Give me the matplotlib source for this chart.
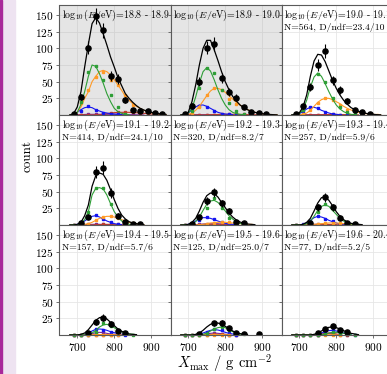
import numpy as np
import matplotlib.pyplot as plt
from matplotlib.patches import Rectangle

plt.rcParams['font.family'] = 'serif'
plt.rcParams['font.serif'] = ['cmr10']
plt.rcParams['mathtext.fontset'] = 'cm'
plt.rcParams['axes.formatter.use_mathtext'] = True

# fitted curves: x from 680 in steps of 10; data / template points: bins from 690 in steps of 20
CURVE_X0, CURVE_DX = 680, 10
BIN_X0, BIN_DX = 690, 20

energy_bins = ['18.8 - 18.9', '18.9 - 19.0', '19.0 - 19.1',
               '19.1 - 19.2', '19.2 - 19.3', '19.3 - 19.4',
               '19.4 - 19.5', '19.5 - 19.6', '19.6 - 20.4']
fit_info = [None, None, 'N=564, D/ndf=23.4/10',
            'N=414, D/ndf=24.1/10', 'N=320, D/ndf=8.2/7', 'N=257, D/ndf=5.9/6',
            'N=157, D/ndf=5.7/6', 'N=125, D/ndf=25.0/7', 'N=77, D/ndf=5.2/5']
shaded = [True, True, False, False, False, False, False, False, False]

# ---- panel 1
data_1 = [1, 27, 101, 149, 127, 58, 54, 22, 8, 6, 6, 3, 2]
total_1 = [0, 2, 12, 35, 72, 106, 137, 146, 138, 122, 105, 87, 72, 56, 44, 32, 25, 19, 14, 10, 7.5, 5.5, 4, 3, 2, 1.3, 0.8]
green_1 = [0, 1, 4, 16, 35, 58, 75, 73, 62, 48, 32, 20, 10, 5, 2.5, 1, 0.5]
orange_1 = [0, 1, 4, 12, 25, 35, 50, 58, 65, 67, 65, 60, 53, 45, 37, 28, 22, 17, 13, 10, 7, 5, 3.5, 2.5, 1.5, 1, 0.5]
blue_1 = [0, 1, 4, 8, 11, 12, 11, 8, 6, 4, 3, 2, 1.5, 1, 0.5]
red_1 = [0, 0, 0, 0, 0, 0, 0, 0, 0.5, 1, 2, 3, 3.5, 4, 4, 4, 4, 3.5, 3.5, 3, 2.5, 2, 1.5, 1, 0.8, 0.5, 0.3]
purple_1 = [0, 0, 0.3, 0.5, 0.8, 1, 1, 1, 1, 1, 1, 1, 1, 0.8, 0.8, 0.6, 0.5, 0.4, 0.3, 0.2, 0.1]
green_pts_1 = [0, 20, 65, 74, 52, 30, 12, 2]
orange_pts_1 = [1, 18, 38, 57, 65, 52, 45, 30, 15, 8, 4, 2, 1]
blue_pts_1 = [1, 6, 13, 8, 3, 2, 1, 0]
red_pts_1 = [0, 0, 0, 0, 1, 3, 4, 4, 4, 3, 2, 1, 0.5]
purple_pts_1 = [0, 0.5, 1, 1, 1, 1, 1, 0.5, 0.5, 0]

# ---- panel 2
data_2 = [1, 14, 50, 101, 106, 55, 35, 26, 12, 4, 2.5, 1]
total_2 = [0, 1, 4, 20, 45, 75, 100, 112, 112, 98, 82, 65, 50, 38, 28, 21, 15, 11, 8, 5.5, 4, 3, 2, 1.3, 0.8, 0.5, 0.3]
green_2 = [0, 0.5, 3, 10, 27, 48, 65, 71, 66, 53, 38, 25, 15, 8, 4, 2, 1, 0.5]
orange_2 = [0, 0, 1, 3, 7, 13, 21, 29, 36, 40, 40, 38, 34, 29, 24, 19, 15, 11, 8, 6, 4, 3, 2, 1.3, 0.8, 0.5, 0.3]
blue_2 = [0, 1, 3, 8, 12, 15, 15, 13, 10, 7, 4, 2.5, 1.5, 1, 0.5]
red_2 = [0, 0, 0, 0, 0, 0, 0, 0, 0.3, 0.5, 0.8, 1, 1, 1, 1, 1, 0.8, 0.8, 0.6, 0.5, 0.4, 0.3, 0.2]
purple_2 = [0, 0, 0.2, 0.3, 0.5, 0.5, 0.5, 0.5, 0.5, 0.5, 0.5, 0.4, 0.3, 0.2, 0.1]
green_pts_2 = [0, 6, 40, 70, 63, 38, 18, 6, 1]
orange_pts_2 = [0, 3, 12, 30, 40, 38, 24, 17, 10, 5, 2, 1]
blue_pts_2 = [1, 7, 13, 12, 6, 2, 1, 0]
red_pts_2 = [0, 0, 0, 0, 0.5, 1, 1, 1, 1, 0.5, 0]
purple_pts_2 = [0, 0, 0.5, 0.5, 0.5, 0.5, 0]

# ---- panel 3
data_3 = [1, 13, 42, 75, 96, 52, 37, 21, 7, 4, 2]
total_3 = [0, 1, 3, 12, 30, 58, 81, 91, 90, 80, 66, 52, 40, 30, 22, 16, 11, 8, 5.5, 4, 2.5, 1.5, 1, 0.5, 0.3]
green_3 = [0, 0.5, 2, 8, 22, 42, 57, 63, 58, 47, 35, 24, 15, 9, 5, 2.5, 1, 0.5]
orange_3 = [0, 0, 0, 1, 3, 7, 13, 19, 23, 25, 25, 23, 20, 17, 13, 10, 7.5, 5.5, 4, 3, 2, 1.5, 1, 0.5, 0.3]
blue_3 = [0, 0.5, 2, 5, 9, 11.5, 11.5, 10, 7, 5, 3, 1.5, 1, 0.5]
red_3 = [0, 0, 0, 0, 0, 0, 0, 0.2, 0.4, 0.6, 0.8, 0.8, 0.8, 0.7, 0.6, 0.5, 0.4, 0.3, 0.2]
purple_3 = [0, 0, 0.2, 0.3, 0.4, 0.5, 0.5, 0.5, 0.4, 0.3, 0.2, 0.1]
green_pts_3 = [0, 7, 40, 62, 50, 26, 12, 4, 1]
orange_pts_3 = [0, 1, 7, 18, 25, 22, 15, 8, 5, 2, 1, 0]
blue_pts_3 = [0.5, 5, 12, 11, 5, 2, 0.5, 0]
red_pts_3 = [0, 0, 0, 0, 0.5, 1, 0.5, 0.5, 0]
purple_pts_3 = [0, 0, 0.5, 0.5, 0.5, 0]

# ---- panel 4
data_4 = [0, 3.5, 12.5, 80, 86, 48, 14, 5, 2, 1]
total_4 = [0, 0, 1, 4, 14, 30, 58, 74, 78, 76, 67, 53, 38, 25, 15, 9, 5, 3, 2, 1, 0.5]
green_4 = [0, 0, 0, 2, 8, 20, 45, 55, 56, 54, 45, 32, 20, 12, 6, 3, 1, 0.5]
orange_4 = [0, 0, 0, 0, 1, 2, 4, 7, 10, 12, 13, 13, 12, 10, 8, 6, 4, 3, 2, 1, 0.5]
blue_4 = [0, 0, 1, 3, 6, 10, 13, 14, 12, 9, 6, 4, 2, 1, 0.5]
red_4 = [0, 0, 0, 0, 0, 0, 0, 0.3, 0.5, 0.8, 1, 1, 1, 0.8, 0.6, 0.4, 0.2]
purple_4 = [0, 0, 0, 0.2, 0.5, 0.8, 1, 1, 1, 0.8, 0.5, 0.3, 0.1]
green_pts_4 = [0, 2, 20, 55, 55, 32, 12, 3, 1]
orange_pts_4 = [0, 0, 2, 7, 12, 13, 10, 6, 3, 1]
blue_pts_4 = [0, 3, 10, 15, 9, 4, 1, 0]
red_pts_4 = [0, 0, 0, 0, 1, 1, 1, 0]
purple_pts_4 = [0, 0, 1, 1, 1, 0.5, 0]

# ---- panel 5
data_5 = [0, 1, 11.5, 36, 49, 32.5, 21.5, 5, 2.5]
total_5 = [0, 0, 1, 4, 10, 21, 34, 44, 48, 47, 42, 34, 26, 18, 12, 7.5, 4.5, 2.5, 1.5, 1, 0.5]
green_5 = [0, 0, 0, 1.5, 5, 12, 22, 31, 36, 37, 34, 28, 21, 14, 9, 5, 2.5, 1, 0.5]
orange_5 = [0, 0, 0, 0, 0, 0.5, 1, 2, 3, 3.5, 4, 4, 4, 3.5, 3, 2.5, 2, 1.5, 1, 0.5]
blue_5 = [0, 0, 1, 3, 6, 9, 11, 11, 10, 8, 6, 4, 2.5, 1.5, 1, 0.5]
red_5 = [0, 0, 0, 0, 0, 0, 0.2, 0.4, 0.5, 0.6, 0.6, 0.5, 0.4, 0.3, 0.2]
purple_5 = [0, 0, 0, 0, 0.5, 1, 1.5, 2, 2, 2, 2, 1.5, 1, 0.5]
green_pts_5 = [0, 1, 10, 25, 40, 26, 10, 3, 0.5]
orange_pts_5 = [0, 0, 0.5, 2, 3, 4, 4, 3, 1, 0.5]
blue_pts_5 = [0, 2, 8, 12, 9, 5, 2, 0.5]
red_pts_5 = [0, 0, 0, 0.5, 0.5, 0.5, 0]
purple_pts_5 = [0, 0, 1, 2, 2, 2, 1, 0]

# ---- panel 6
data_6 = [0, 0, 3.5, 26.5, 41.5, 26.5, 11, 3, 1.5]
total_6 = [0, 0, 0, 1, 4, 10, 21, 33, 41, 42, 37, 29, 20, 13, 8, 4.5, 2.5, 1.5, 1, 0.5]
green_6 = [0, 0, 0, 0, 2, 6, 13, 22, 28, 30, 28, 22, 16, 10, 6, 3, 1.5, 0.5]
orange_6 = [0, 0, 0, 0, 0, 0.5, 1, 1.5, 2, 2.5, 3, 3, 3, 2.5, 2, 1.5, 1, 0.5]
blue_6 = [0, 0, 0, 1, 3, 7, 11, 13, 12, 10, 7, 5, 3, 1.5, 1, 0.5]
red_6 = [0, 0, 0, 0, 0, 0, 0.2, 0.4, 0.5, 0.6, 0.6, 0.5, 0.4, 0.3, 0.2]
purple_6 = [0, 0, 0, 0, 0.3, 0.6, 1, 1, 1, 1, 0.8, 0.5, 0.3]
green_pts_6 = [0, 0, 5, 20, 31, 24, 10, 3, 0.5]
orange_pts_6 = [0, 0, 0.5, 1.5, 2.5, 3, 2.5, 1.5, 0.5]
blue_pts_6 = [0, 1, 6, 13, 9, 6, 1, 0.5]
red_pts_6 = [0, 0, 0, 0.5, 0.5, 0.5, 0]
purple_pts_6 = [0, 0, 0.5, 1, 1, 0.5, 0]

# ---- panel 7
data_7 = [0, 0, 3.5, 20, 26, 16.5, 6.5, 3.5]
total_7 = [0, 0, 0, 1, 3, 8, 15, 22, 26, 27, 24, 19, 14, 9, 5.5, 3, 1.5, 1, 0.5]
green_7 = [0, 0, 0, 0, 0, 1, 3, 7, 12, 15, 16, 14, 11, 8, 5, 3, 1.5, 1, 0.5]
orange_7 = [0, 0, 0, 0, 0, 0, 0.2, 0.4, 0.5, 0.6, 0.6, 0.5, 0.4, 0.3, 0.2]
blue_7 = [0, 0, 0, 0, 1, 3, 6, 8.5, 9, 8.5, 7, 5, 3.5, 2, 1, 0.5]
red_7 = [0, 0, 0, 0, 0, 0, 0.2, 0.4, 0.6, 0.6, 0.5, 0.4, 0.2]
purple_7 = [0, 0, 0, 0, 0, 0.5, 2, 3.5, 4, 3.5, 2.5, 1.5, 1, 0.5]
green_pts_7 = [0, 0, 1, 5, 18, 14, 7, 3, 0.5]
orange_pts_7 = [0, 0, 0, 0.5, 0.5, 0.5, 0]
blue_pts_7 = [0, 0, 2, 9, 8, 5, 2, 0.5]
red_pts_7 = [0, 0, 0, 0.5, 0.5, 0]
purple_pts_7 = [0, 0, 0.5, 3, 4, 1, 0.5]

# ---- panel 8
data_8 = [0, 0, 1, 0, 17.5, 18.5, 10, 2.5, 2, 0, 1.5]
total_8 = [0, 0, 0, 0, 1, 3, 7, 12, 16, 18, 18, 16, 13, 9.5, 6, 3.5, 2, 1, 0.5]
green_8 = [0, 0, 0, 0, 0, 0, 1, 3, 6, 9, 11, 12, 11, 8, 5, 3, 1.5, 1, 0.5]
orange_8 = [0, 0, 0, 0, 0, 0, 0.2, 0.3, 0.4, 0.5, 0.5, 0.4, 0.3, 0.2]
blue_8 = [0, 0, 0, 0, 0, 1, 3, 5, 7, 8, 7.5, 6, 4, 2.5, 1.5, 0.5]
red_8 = [0, 0, 0, 0, 0, 0, 0.2, 0.5, 0.8, 1, 1, 0.8, 0.5, 0.2]
purple_8 = [0, 0, 0, 0, 0, 0, 0.5, 1.5, 2.5, 3, 2.5, 2, 1, 0.5]
green_pts_8 = [0, 0, 0, 2, 9, 12, 7, 3, 1]
orange_pts_8 = [0, 0, 0, 0.5, 0.5, 0.5, 0]
blue_pts_8 = [0, 0, 1, 5, 9, 7, 3, 0.5]
red_pts_8 = [0, 0, 0, 0.5, 1, 1, 0.5, 0]
purple_pts_8 = [0, 0, 0, 1.5, 3, 2, 0.5, 0]

# ---- panel 9
data_9 = [0, 0, 0, 2.5, 9, 13.5, 7.5, 4]
total_9 = [0, 0, 0, 0, 0, 0, 1, 3, 6, 9.5, 11.5, 12, 11, 9, 6.5, 4, 2.5, 1.5, 0.5]
green_9 = [0, 0, 0, 0, 0, 0, 0, 0, 0.5, 1.5, 3, 4, 4, 3.5, 2.5, 1.5, 0.5]
orange_9 = [0, 0, 0, 0, 0, 0, 0, 0.1, 0.2, 0.3, 0.3, 0.3, 0.2, 0.1]
blue_9 = [0, 0, 0, 0, 0, 0, 0, 1, 3, 5, 6.5, 7, 6, 4.5, 3, 1.5, 0.5]
red_9 = [0, 0, 0, 0, 0, 0, 0, 0.5, 1.5, 2.5, 3, 2.5, 1.5, 0.5]
purple_9 = [0, 0, 0, 0, 0, 0, 0, 0, 1, 1.5, 2, 1.5, 1, 0.5]
green_pts_9 = [0, 0, 0, 0, 1.5, 4, 3.5, 1.5, 0]
orange_pts_9 = [0, 0, 0, 0, 0.3, 0.3, 0]
blue_pts_9 = [0, 0, 0, 0, 5, 8, 4, 1, 0]
red_pts_9 = [0, 0, 0, 0.5, 2.5, 2.5, 0.5, 0]
purple_pts_9 = [0, 0, 0, 0, 1.5, 1.5, 1, 0]

panels = [
    (data_1, total_1, [purple_1, red_1, blue_1, orange_1, green_1],
     [purple_pts_1, red_pts_1, blue_pts_1, orange_pts_1, green_pts_1]),
    (data_2, total_2, [purple_2, red_2, blue_2, orange_2, green_2],
     [purple_pts_2, red_pts_2, blue_pts_2, orange_pts_2, green_pts_2]),
    (data_3, total_3, [purple_3, red_3, blue_3, orange_3, green_3],
     [purple_pts_3, red_pts_3, blue_pts_3, orange_pts_3, green_pts_3]),
    (data_4, total_4, [purple_4, red_4, blue_4, orange_4, green_4],
     [purple_pts_4, red_pts_4, blue_pts_4, orange_pts_4, green_pts_4]),
    (data_5, total_5, [purple_5, red_5, blue_5, orange_5, green_5],
     [purple_pts_5, red_pts_5, blue_pts_5, orange_pts_5, green_pts_5]),
    (data_6, total_6, [purple_6, red_6, blue_6, orange_6, green_6],
     [purple_pts_6, red_pts_6, blue_pts_6, orange_pts_6, green_pts_6]),
    (data_7, total_7, [purple_7, red_7, blue_7, orange_7, green_7],
     [purple_pts_7, red_pts_7, blue_pts_7, orange_pts_7, green_pts_7]),
    (data_8, total_8, [purple_8, red_8, blue_8, orange_8, green_8],
     [purple_pts_8, red_pts_8, blue_pts_8, orange_pts_8, green_pts_8]),
    (data_9, total_9, [purple_9, red_9, blue_9, orange_9, green_9],
     [purple_pts_9, red_pts_9, blue_pts_9, orange_pts_9, green_pts_9]),
]
comp_colors = ['#7b2a9a', '#c0392b', '#1414f0', '#ff9a26', '#2e9e36']

W, H = 387, 374
fig = plt.figure(figsize=(W / 100, H / 100), dpi=100)

# lavender strip on the left edge
fig.patches.append(Rectangle((0, 0), 15 / W, 1, transform=fig.transFigure,
                             color='#eee3f1', zorder=0))
fig.patches.append(Rectangle((0, 0), 2 / W, 1, transform=fig.transFigure,
                             color='#a8289a', zorder=1))

lefts = [59.5, 170.5, 281.5]
tops = [5, 115, 225]
pw, ph = 111, 110
spine_c = '#5a5a5a'

def xs(vals, x0, dx):
    return x0 + dx * np.arange(len(vals))

for i, (dat, tot, comps, pts) in enumerate(panels):
    r, c = divmod(i, 3)
    ax = fig.add_axes([lefts[c] / W, 1 - (tops[r] + ph) / H, pw / W, ph / H])
    ax.set_xlim(652, 952)
    ax.set_ylim(0, 165)
    ax.set_xticks([700, 800, 900])
    ax.set_yticks([25, 50, 75, 100, 125, 150])
    ax.set_facecolor('#e5e5e5' if shaded[i] else 'white')
    ax.grid(True, color='#d4d4d4' if shaded[i] else '#e6e6e6', lw=0.6)
    ax.set_axisbelow(True)
    for s in ax.spines.values():
        s.set_color(spine_c)
        s.set_linewidth(0.8)
    ax.tick_params(length=2.5, width=0.6, color=spine_c, labelsize=8.2, pad=1.5)
    if c > 0:
        ax.tick_params(labelleft=False)
    if r < 2:
        ax.tick_params(labelbottom=False)

    for col, curve, p in zip(comp_colors, comps, pts):
        ax.plot(xs(curve, CURVE_X0, CURVE_DX), curve, color=col, lw=0.8)
        ax.plot(xs(p, BIN_X0, BIN_DX), p, ls='none', marker='s', ms=1.8,
                color=col, clip_on=False)
    ax.plot(xs(tot, CURVE_X0, CURVE_DX), tot, color='black', lw=0.9)
    dx = xs(dat, BIN_X0, BIN_DX)
    dy = np.array(dat, dtype=float)
    keep = dy > 0
    ax.errorbar(dx[keep], dy[keep], yerr=np.sqrt(dy[keep]), fmt='o', ms=3.7,
                color='black', elinewidth=0.8, capsize=0)

    ax.text(0.02, 1 - 10 / ph, r'$\log_{10}(E/\mathrm{eV})$=' + energy_bins[i],
            transform=ax.transAxes, ha='left', va='center', fontsize=7.1)
    if fit_info[i]:
        ax.text(0.02, 1 - 22.5 / ph, fit_info[i], transform=ax.transAxes,
                ha='left', va='center', fontsize=7.0)

fig.text(28 / W, 1 - 156 / H, 'count', rotation=90, ha='center', va='center',
         fontsize=9.5)
fig.text(224 / W, 1 - 363 / H, r'$X_{\max}$ / g cm$^{-2}$', ha='center',
         va='center', fontsize=10.5)

fig.savefig('out.png', dpi=100)
